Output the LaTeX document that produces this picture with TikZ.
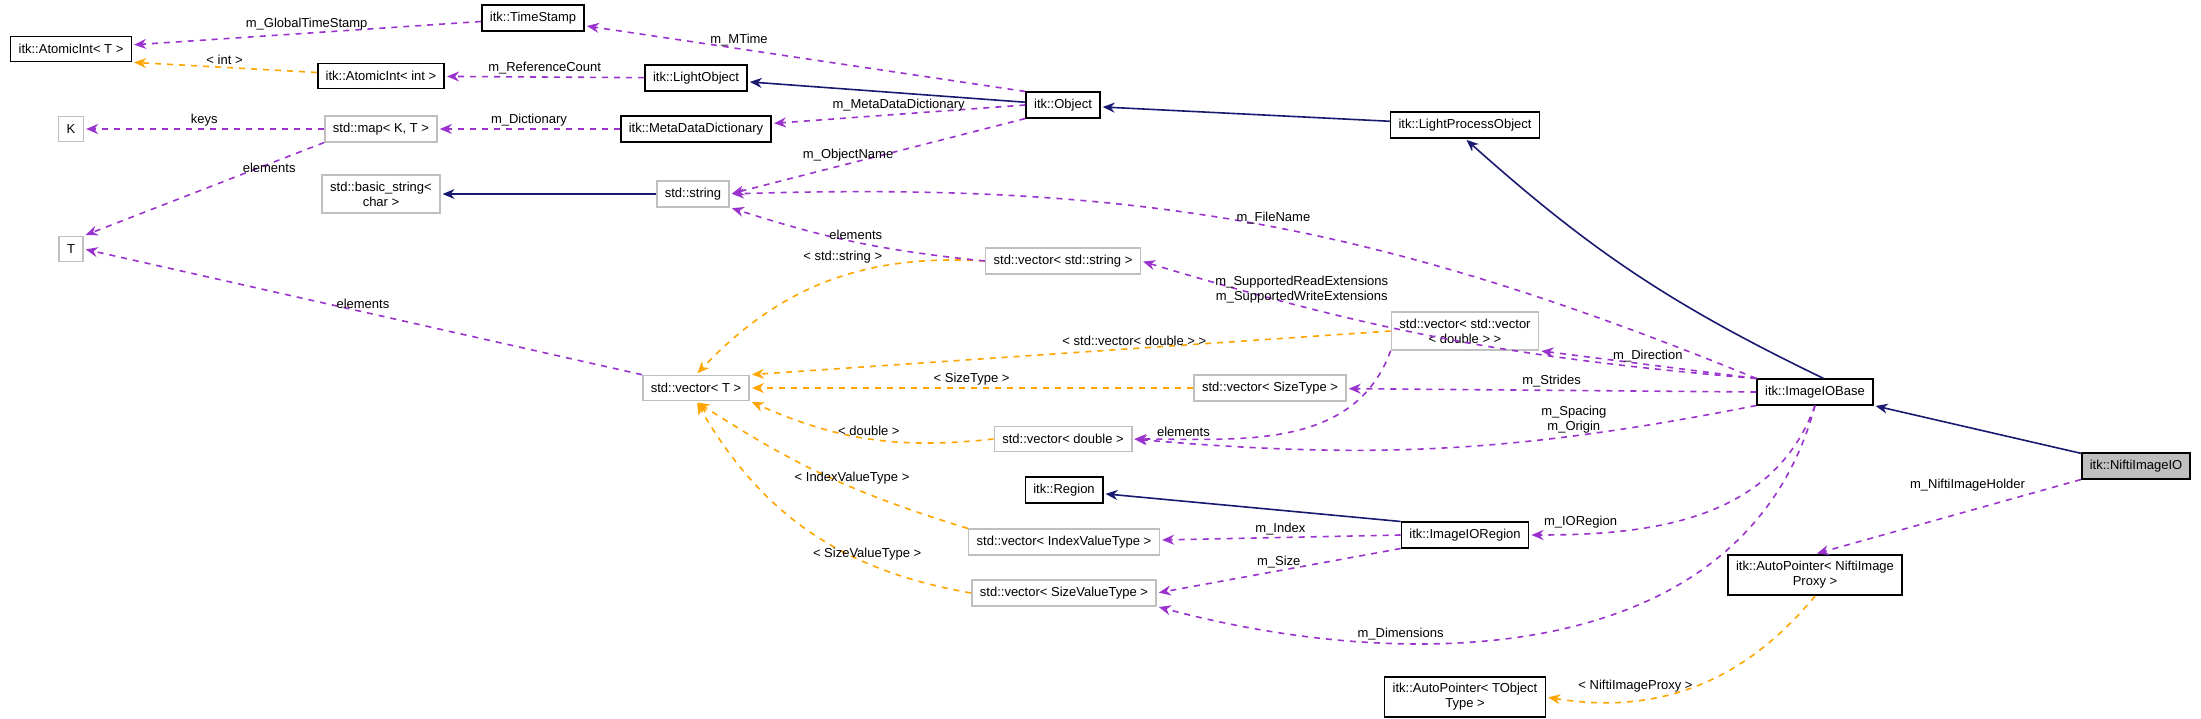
\documentclass[tikz,border=0pt]{standalone}
\usepackage{fontspec}
\setmainfont{Liberation Sans}
\usetikzlibrary{arrows.meta,positioning}
\definecolor{usecol}{HTML}{9A32CD}
\definecolor{tplcol}{HTML}{FFA500}
\definecolor{inhcol}{HTML}{191970}
\tikzstyle{cls} = [rectangle, draw=black, thick, minimum height=12.5pt, inner xsep=4pt, align=center, font=\fontsize{6.5}{7.5}\selectfont]
\tikzstyle{ext} = [cls, draw=black!25]
\tikzstyle{uses} = [thick, dashed, draw=usecol, ->, >={Stealth[length=6pt,width=5pt]}, shorten >=1pt]
\tikzstyle{tpl} = [thick, dashed, draw=tplcol, ->, >={Stealth[length=6pt,width=5pt]}, shorten >=1pt]
\tikzstyle{inh} = [thick, draw=inhcol, ->, >={Stealth[length=6pt,width=5pt]}, shorten >=1pt]
\tikzstyle{lbl} = [font=\fontsize{6.5}{7.5}\selectfont, inner sep=1pt]

\begin{document}
\begin{tikzpicture}[x=0.5pt, y=-0.5pt]
	\useasboundingbox (0,0) rectangle (2201,718);

	% Left column
	\node (atomicT) [cls] at (71,49) {itk::AtomicInt< T >};
	\node (keyK) [ext] at (71,129) {K};
	\node (valT) [ext] at (71,249) {T};

	% Second column
	\node (atomicInt) [cls] at (381,76) {itk::AtomicInt< int >};
	\node (stdMap) [ext] at (381,129) {std::map< K, T >};
	\node (basicString) [ext] at (381,194) {std::basic\_string<\\char >};
	\node (timeStamp) [cls] at (533,18) {itk::TimeStamp};

	% Third column
	\node (lightObject) [cls] at (696,78) {itk::LightObject};
	\node (metaDict) [cls] at (696,129) {itk::MetaDataDictionary};
	\node (stdString) [ext] at (693,194) {std::string};
	\node (vecT) [ext] at (696,388) {std::vector< T >};

	% Fourth column
	\node (itkObject) [cls] at (1063,105) {itk::Object};
	\node (vecString) [ext] at (1063,261) {std::vector< std::string >};
	\node (vecDouble) [ext] at (1063,439) {std::vector< double >};
	\node (itkRegion) [cls] at (1064,490) {itk::Region};
	\node (vecIndex) [ext] at (1064,542) {std::vector< IndexValueType >};
	\node (vecSizeValue) [ext] at (1064,593) {std::vector< SizeValueType >};
	\node (vecSizeType) [ext] at (1270,388) {std::vector< SizeType >};

	% Fifth column
	\node (lightProcess) [cls] at (1465,125) {itk::LightProcessObject};
	\node (vecVec) [ext] at (1465,331) {std::vector< std::vector\\< double > >};
	\node (ioRegion) [cls] at (1465,535) {itk::ImageIORegion};
	\node (autoTObject) [cls] at (1465,697) {itk::AutoPointer< TObject\\Type >};

	% Right side
	\node (ioBase) [cls] at (1815,392) {itk::ImageIOBase};
	\node (autoNifti) [cls] at (1815,575) {itk::AutoPointer< NiftiImage\\Proxy >};
	\node (niftiIO) [cls, fill=black!25] at (2136,466) {itk::NiftiImageIO};

	% Inheritance
	\draw [inh] (itkObject) -- (lightObject);
	\draw [inh] (lightProcess) -- (itkObject);
	\draw [inh] (ioBase.north east) ++(-50,0) to[bend left=8] (lightProcess.south);
	\draw [inh] (niftiIO) -- (ioBase.south east);
	\draw [inh] (stdString) -- (basicString);
	\draw [inh] (ioRegion.north west) -- (itkRegion);

	% Templates
	\draw [tpl] (atomicInt) -- node[lbl, above] {< int >} (atomicT.south east);
	\draw [tpl] (vecString.west) to[bend right=25] node[lbl, pos=0.3, above left] {< std::string >} (vecT.north);
	\draw [tpl] (vecVec.west) -- node[lbl, above, pos=0.4] {< std::vector< double > >} (vecT.north east);
	\draw [tpl] (vecSizeType) -- node[lbl, above] {< SizeType >} (vecT);
	\draw [tpl] (vecDouble.west) to[bend left=15] node[lbl, above] {< double >} (vecT.south east);
	\draw [tpl] (vecIndex.north west) to[bend left=8] node[lbl, above, pos=0.4] {< IndexValueType >} (vecT.south);
	\draw [tpl] (vecSizeValue.west) to[bend left=25] node[lbl, above, pos=0.3] {< SizeValueType >} (vecT.south);
	\draw [tpl] (autoNifti.south) to[bend left=30] node[lbl, left, pos=0.5] {< NiftiImageProxy >} (autoTObject.east);

	% Members
	\draw [uses] (timeStamp) -- node[lbl, above] {m\_GlobalTimeStamp} (atomicT);
	\draw [uses] (itkObject.north west) -- node[lbl, above, pos=0.65] {m\_MTime} (timeStamp);
	\draw [uses] (lightObject) -- node[lbl, above] {m\_ReferenceCount} (atomicInt);
	\draw [uses] (stdMap) -- node[lbl, above] {keys} (keyK);
	\draw [uses] (metaDict) -- node[lbl, above] {m\_Dictionary} (stdMap);
	\draw [uses] (stdMap.south west) -- node[lbl, above right, pos=0.35] {elements} (valT.north east);
	\draw [uses] (itkObject.west) -- node[lbl, above] {m\_MetaDataDictionary} (metaDict);
	\draw [uses] (itkObject.south west) -- node[lbl, above, pos=0.6] {m\_ObjectName} (stdString.east);
	\draw [uses] (ioBase.north west) to[bend right=12] node[lbl, above, pos=0.48] {m\_FileName} (stdString.east);
	\draw [uses] (vecString.west) to[bend left=6] node[lbl, above] {elements} (stdString.south east);
	\draw [uses] (vecT.north west) -- node[lbl, above] {elements} (valT.east);
	\draw [uses] (ioBase.north west) to[bend left=6] node[lbl, above, pos=0.75, align=center] {m\_SupportedReadExtensions\\m\_SupportedWriteExtensions} (vecString.east);
	\draw [uses] (ioBase.north west) -- node[lbl, above] {m\_Direction} (vecVec.south east);
	\draw [uses] (ioBase.west) -- node[lbl, above] {m\_Strides} (vecSizeType);
	\draw [uses] (ioBase.south west) to[bend left=8] node[lbl, above, pos=0.28, align=center] {m\_Spacing\\m\_Origin} (vecDouble.east);
	\draw [uses] (vecVec.south west) to[out=-110, in=0] node[lbl, above left, pos=0.75] {elements} (vecDouble.east);
	\draw [uses] (ioBase.south) to[out=-110, in=0] node[lbl, above left, pos=0.75] {m\_IORegion} (ioRegion.east);
	\draw [uses] (ioBase.south) to[out=-105, in=-15] node[lbl, above, pos=0.7] {m\_Dimensions} (vecSizeValue.south east);
	\draw [uses] (ioRegion.west) -- node[lbl, above] {m\_Index} (vecIndex);
	\draw [uses] (ioRegion.south west) -- node[lbl, above] {m\_Size} (vecSizeValue.east);
	\draw [uses] (niftiIO.south west) -- node[lbl, above left, pos=0.2] {m\_NiftiImageHolder} (autoNifti.north);
\end{tikzpicture}
\end{document}
